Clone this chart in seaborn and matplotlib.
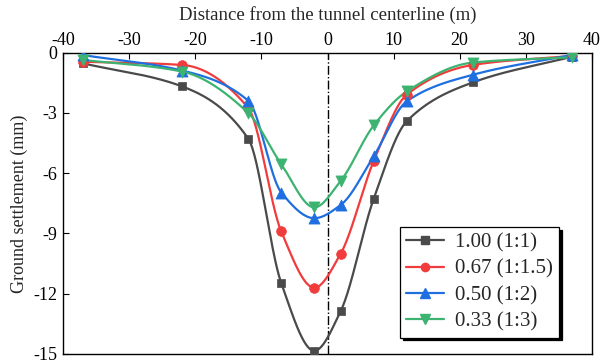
import numpy as np
import pandas as pd
import matplotlib
matplotlib.use("Agg")
import matplotlib.pyplot as plt
from matplotlib.lines import Line2D
import seaborn as sns

# ---- data ----
distance = [-37, -22, -12, -7, -2, 2, 7, 12, 22, 37]
s_100 = [-0.53, -1.68, -4.28, -11.47, -14.84, -12.86, -7.27, -3.41, -1.48, -0.20]
s_067 = [-0.45, -0.61, -2.75, -8.90, -11.70, -10.00, -5.39, -2.09, -0.61, -0.16]
s_050 = [-0.12, -0.89, -2.39, -6.96, -8.24, -7.58, -5.15, -2.42, -1.10, -0.11]
s_033 = [-0.36, -0.94, -3.00, -5.55, -7.70, -6.38, -3.62, -1.93, -0.49, -0.23]
labels = ["1.00 (1:1)", "0.67 (1:1.5)", "0.50 (1:2)", "0.33 (1:3)"]
series = [s_100, s_067, s_050, s_033]
colors = ["#4a4a4a", "#f03c3c", "#1f6fe0", "#3cb371"]
markers = ["s", "o", "^", "v"]
msizes = [6, 7, 8, 8]
xticks = [-40, -30, -20, -10, 0, 10, 20, 30, 40]
yticks = [0, -3, -6, -9, -12, -15]


def pchip(x, y, xs):
    """Monotone piecewise cubic (Fritsch-Carlson) used only to draw a smooth line."""
    x = np.asarray(x, float); y = np.asarray(y, float)
    h = np.diff(x); d = np.diff(y) / h
    n = len(x); m = np.zeros(n)
    for k in range(1, n - 1):
        if d[k - 1] * d[k] > 0:
            w1 = 2 * h[k] + h[k - 1]; w2 = h[k] + 2 * h[k - 1]
            m[k] = (w1 + w2) / (w1 / d[k - 1] + w2 / d[k])
    m[0] = d[0]; m[-1] = d[-1]
    idx = np.clip(np.searchsorted(x, xs) - 1, 0, n - 2)
    hh = h[idx]; t = (xs - x[idx]) / hh
    h00 = 2 * t**3 - 3 * t**2 + 1; h10 = t**3 - 2 * t**2 + t
    h01 = -2 * t**3 + 3 * t**2; h11 = t**3 - t**2
    return h00 * y[idx] + h10 * hh * m[idx] + h01 * y[idx + 1] + h11 * hh * m[idx + 1]


sns.set_theme(style="ticks")
plt.rcParams["font.family"] = ["Liberation Serif", "DejaVu Serif"]
plt.rcParams["axes.unicode_minus"] = False

fig = plt.figure(figsize=(6.12, 3.64), dpi=100)
ax = fig.add_axes([63.3 / 612, 1 - 354 / 364, (591.7 - 63.3) / 612, (354 - 52.7) / 364])

ax.axvline(0, color="black", lw=1.0, ls="-.", zorder=1)

xs = np.linspace(min(distance), max(distance), 800)
for lab, ys, c, m, ms in zip(labels, series, colors, markers, msizes):
    curve = pd.DataFrame({"x": xs, "y": pchip(distance, ys, xs)})
    sns.lineplot(data=curve, x="x", y="y", ax=ax, color=c, lw=1.6, zorder=2,
                 sort=False, estimator=None)
    pts = pd.DataFrame({"x": distance, "y": ys})
    sns.scatterplot(data=pts, x="x", y="y", ax=ax, color=c, marker=m, s=ms**2,
                    edgecolor=c, linewidth=0.5, zorder=3, legend=False)

ax.set_xlim(-40, 40)
ax.set_ylim(-15, 0)
ax.set_xticks(xticks)
ax.set_yticks(yticks)
ax.xaxis.tick_top()
ax.xaxis.set_label_position("top")
ax.tick_params(axis="x", direction="in", length=4, width=0.8, labelsize=13, pad=3,
               top=True, bottom=False, colors="black")
ax.tick_params(axis="y", direction="in", length=4, width=0.8, labelsize=13, pad=4,
               left=True, right=False, colors="black")
ax.set_xlabel("Distance from the tunnel centerline (m)", fontsize=13.5, labelpad=8)
ax.set_ylabel("Ground settlement (mm)", fontsize=13, labelpad=4)
for sp in ax.spines.values():
    sp.set_visible(True)
    sp.set_color("black")
    sp.set_linewidth(1.0)

handles = [Line2D([0], [0], color=c, marker=m, markersize=ms * 0.85, lw=1.6)
           for c, m, ms in zip(colors, markers, msizes)]
leg = ax.legend(handles, labels, loc="upper left", bbox_to_anchor=(0.637, 0.422),
                borderaxespad=0, fontsize=15, frameon=True, fancybox=False,
                edgecolor="black", framealpha=1, handlelength=1.8, handletextpad=0.55,
                labelspacing=0.32, borderpad=0.3,
                shadow={"color": "black", "alpha": 1.0})
leg.get_frame().set_linewidth(0.9)

fig.savefig("out.png", dpi=100)
